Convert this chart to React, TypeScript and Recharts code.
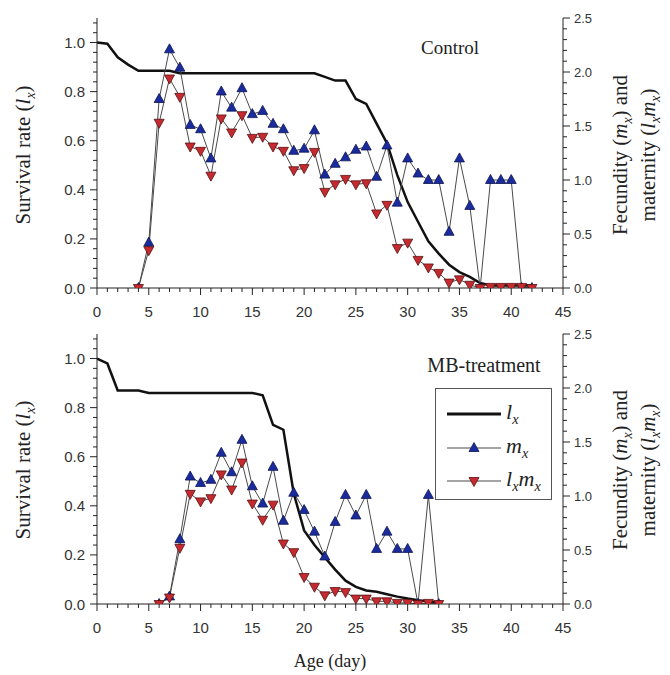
import React from "react";
import { ComposedChart, Line, XAxis, YAxis } from "recharts";

// Control: lx from day 0, mx and lxmx from day 4
const CONTROL_LX = [
  1.0, 0.995, 0.94, 0.91, 0.885, 0.885, 0.885, 0.885, 0.875, 0.875, 0.875, 0.875, 0.875, 0.875,
  0.875, 0.875, 0.875, 0.875, 0.875, 0.875, 0.875, 0.875, 0.86, 0.845, 0.845, 0.77, 0.75, 0.67,
  0.59, 0.46, 0.35, 0.27, 0.19, 0.14, 0.095, 0.065, 0.045, 0.02, 0.01, 0.01, 0.01, 0.01, 0.01,
];
const CONTROL_MX = [
  0, 0.42, 1.75, 2.21, 2.04, 1.51, 1.47, 1.2, 1.82, 1.67, 1.85, 1.61, 1.64, 1.52, 1.47, 1.27,
  1.29, 1.46, 1.05, 1.15, 1.21, 1.28, 1.31, 1.03, 1.32, 0.79, 1.2, 1.06, 1.0, 1.0, 0.52, 1.2,
  0.76, 0, 1.0, 1.0, 1.0, 0, 0,
];
const CONTROL_LXMX = [
  0, 0.35, 1.53, 1.94, 1.77, 1.31, 1.27, 1.04, 1.57, 1.44, 1.6, 1.39, 1.4, 1.31, 1.27, 1.09,
  1.11, 1.26, 0.89, 0.96, 1.01, 0.96, 0.97, 0.69, 0.77, 0.37, 0.42, 0.26, 0.19, 0.14, 0.05, 0.08,
  0.03, 0, 0.01, 0.01, 0.01, 0.01, 0,
];
const CONTROL_START = { lx: 0, mx: 4 };

// MB-treatment: lx from day 0, mx and lxmx from day 6
const MB_LX = [
  1.0, 0.98, 0.87, 0.87, 0.87, 0.86, 0.86, 0.86, 0.86, 0.86, 0.86, 0.86, 0.86, 0.86, 0.86, 0.86,
  0.85, 0.73, 0.71, 0.45, 0.3, 0.24, 0.19, 0.14, 0.095, 0.07, 0.055, 0.05, 0.04, 0.03, 0.022,
  0.015, 0.01, 0.005,
];
const MB_MX = [
  0, 0.07, 0.6, 1.18, 1.12, 1.15, 1.4, 1.22, 1.52, 1.09, 0.93, 1.27, 0.77, 1.03, 0.87, 0.67,
  0.44, 0.76, 1.01, 0.82, 1.01, 0.51, 0.67, 0.51, 0.51, 0, 1.01, 0,
];
const MB_LXMX = [
  0, 0.06, 0.52, 1.02, 0.95, 0.98, 1.2, 1.06, 1.31, 0.93, 0.78, 0.92, 0.56, 0.48, 0.25, 0.16,
  0.08, 0.12, 0.11, 0.05, 0.05, 0.025, 0.025, 0.01, 0.01, 0, 0.01, 0,
];
const MB_START = { lx: 0, mx: 6 };

const AGE_TICKS = Array.from({ length: 46 }, (_, i) => i);
const LEFT_TICKS = Array.from({ length: 28 }, (_, i) => +(i * 0.04).toFixed(2));
const RIGHT_TICKS = Array.from({ length: 26 }, (_, i) => +(i * 0.1).toFixed(1));

const SANS = "'Liberation Sans', Arial, sans-serif";
const SERIF = "'Liberation Serif', 'Times New Roman', serif";
const AXIS = "#222";
const LINK = "#4a4a4a";

const toRows = (vals: number[], start: number) => vals.map((v, i) => ({ day: start + i, v }));

function AgeTick({ x, y, payload }: any) {
  const v = payload.value;
  const major = v % 5 === 0;
  return (
    <g>
      <line x1={x} x2={x} y1={y} y2={y + (major ? 7 : 4)} stroke={AXIS} />
      {major && (
        <text x={x} y={y + 23} textAnchor="middle" dominantBaseline="central" fontSize={15} fill="#333" fontFamily={SANS}>
          {v}
        </text>
      )}
    </g>
  );
}

function LeftTick({ x, y, payload }: any) {
  const v = payload.value;
  const major = Math.abs(v * 5 - Math.round(v * 5)) < 1e-6;
  return (
    <g>
      <line x1={x} x2={x - (major ? 7 : 4)} y1={y} y2={y} stroke={AXIS} />
      {major && (
        <text x={x - 12} y={y} textAnchor="end" dominantBaseline="central" fontSize={15} fill="#333" fontFamily={SANS}>
          {v.toFixed(1)}
        </text>
      )}
    </g>
  );
}

function RightTick({ x, y, payload }: any) {
  const v = payload.value;
  const major = Math.abs(v * 2 - Math.round(v * 2)) < 1e-6;
  return (
    <g>
      <line x1={x} x2={x + (major ? 7 : 4)} y1={y} y2={y} stroke={AXIS} />
      {major && (
        <text x={x + 11} y={y} textAnchor="start" dominantBaseline="central" fontSize={13} fill="#333" fontFamily={SANS}>
          {v.toFixed(1)}
        </text>
      )}
    </g>
  );
}

const triangle = (up: boolean, fill: string, stroke: string) => (props: any) => {
  const { cx, cy, index } = props;
  if (cx == null || cy == null) return <g key={index} />;
  const pts = up
    ? `${cx},${cy - 5.5} ${cx - 5},${cy + 3.5} ${cx + 5},${cy + 3.5}`
    : `${cx},${cy + 5.5} ${cx - 5},${cy - 3.5} ${cx + 5},${cy - 3.5}`;
  return <polygon key={index} points={pts} fill={fill} stroke={stroke} strokeWidth={0.8} />;
};

const blueDot = triangle(true, "#1a2b9e", "#0c1450");
const redDot = triangle(false, "#c42a2f", "#5a1010");

const Lx = () => (
  <>
    <i>l</i>
    <sub style={{ fontSize: "0.65em" }}>
      <i>x</i>
    </sub>
  </>
);
const Mx = () => (
  <>
    <i>m</i>
    <sub style={{ fontSize: "0.65em" }}>
      <i>x</i>
    </sub>
  </>
);

function LegendBox({ left, top }: { left: number; top: number }) {
  const row = (kind: string, y: number) => (
    <svg width={56} height={20} style={{ position: "absolute", left: 10, top: y - 10 }}>
      <line x1={1} x2={55} y1={10} y2={10} stroke={kind === "lx" ? "#111" : LINK} strokeWidth={kind === "lx" ? 3 : 1.2} />
      {kind === "mx" && blueDot({ cx: 28, cy: 10, index: 0 })}
      {kind === "lxmx" && redDot({ cx: 28, cy: 10, index: 0 })}
    </svg>
  );
  const lab = (node: React.ReactNode, y: number) => (
    <div style={{ position: "absolute", left: 70, top: y - 15, fontFamily: SERIF, fontSize: 22, lineHeight: "26px", color: "#222" }}>
      {node}
    </div>
  );
  return (
    <div style={{ position: "absolute", left, top, width: 117, height: 112, border: "1px solid #555", boxSizing: "border-box", background: "#fff" }}>
      {row("lx", 25)}
      {lab(<Lx />, 25)}
      {row("mx", 59)}
      {lab(<Mx />, 59)}
      {row("lxmx", 92)}
      {lab(
        <>
          <Lx />
          <Mx />
        </>,
        92
      )}
    </div>
  );
}

function Panel({ lx, mx, lxmx, start }: any) {
  const lxRows = toRows(lx, start.lx);
  const mxRows = toRows(mx, start.mx);
  const lxmxRows = toRows(lxmx, start.mx);
  return (
    <ComposedChart width={670} height={330} margin={{ top: 18, right: 0, bottom: 0, left: 0 }}>
      <XAxis
        dataKey="day"
        type="number"
        domain={[0, 45]}
        ticks={AGE_TICKS}
        interval={0}
        tickSize={0}
        tickMargin={0}
        tick={<AgeTick />}
        axisLine={{ stroke: AXIS }}
        height={42}
        allowDataOverflow
      />
      <XAxis xAxisId="top" orientation="top" type="number" domain={[0, 45]} height={0} tick={false} tickLine={false} axisLine={{ stroke: AXIS }} />
      <YAxis
        yAxisId="left"
        type="number"
        domain={[0, 1.1]}
        ticks={LEFT_TICKS}
        interval={0}
        tickSize={0}
        tickMargin={0}
        tick={<LeftTick />}
        axisLine={{ stroke: AXIS }}
        width={97}
        allowDataOverflow
      />
      <YAxis
        yAxisId="right"
        orientation="right"
        type="number"
        domain={[0, 2.5]}
        ticks={RIGHT_TICKS}
        interval={0}
        tickSize={0}
        tickMargin={0}
        tick={<RightTick />}
        axisLine={{ stroke: AXIS }}
        width={107}
        allowDataOverflow
      />
      <Line data={lxRows} dataKey="v" yAxisId="left" stroke="#111" strokeWidth={2.5} dot={false} isAnimationActive={false} type="linear" />
      <Line data={mxRows} dataKey="v" yAxisId="right" stroke={LINK} strokeWidth={1} dot={blueDot} isAnimationActive={false} type="linear" />
      <Line data={lxmxRows} dataKey="v" yAxisId="right" stroke={LINK} strokeWidth={1} dot={redDot} isAnimationActive={false} type="linear" />
    </ComposedChart>
  );
}

const abs = (extra: React.CSSProperties): React.CSSProperties => ({
  position: "absolute",
  whiteSpace: "nowrap",
  fontFamily: SERIF,
  color: "#222",
  ...extra,
});

function AxisTitles({ cy }: { cy: number }) {
  const rot = "translate(-50%, -50%) rotate(-90deg)";
  return (
    <>
      <div style={abs({ left: 25, top: cy, transform: rot, fontSize: 21 })}>
        Survival rate (<Lx />)
      </div>
      <div style={abs({ left: 622, top: cy, transform: rot, fontSize: 21 })}>
        Fecundity (<Mx />) and
      </div>
      <div style={abs({ left: 650, top: cy, transform: rot, fontSize: 21 })}>
        maternity (<Lx />
        <Mx />)
      </div>
    </>
  );
}

export default function App() {
  return (
    <div style={{ position: "absolute", left: 0, top: 0, width: 670, height: 675, background: "#fff", overflow: "hidden" }}>
      <div style={{ position: "absolute", left: 0, top: 0 }}>
        <Panel lx={CONTROL_LX} mx={CONTROL_MX} lxmx={CONTROL_LXMX} start={CONTROL_START} />
      </div>
      <div style={{ position: "absolute", left: 0, top: 316 }}>
        <Panel lx={MB_LX} mx={MB_MX} lxmx={MB_LXMX} start={MB_START} />
      </div>
      <LegendBox left={435} top={388} />
      <AxisTitles cy={155} />
      <AxisTitles cy={470} />
      <div style={abs({ left: 450, top: 48, transform: "translate(-50%, -50%)", fontSize: 19 })}>Control</div>
      <div style={abs({ left: 484, top: 365, transform: "translate(-50%, -50%)", fontSize: 20 })}>MB-treatment</div>
      <div style={abs({ left: 330, top: 661, transform: "translate(-50%, -50%)", fontSize: 18 })}>Age (day)</div>
    </div>
  );
}
